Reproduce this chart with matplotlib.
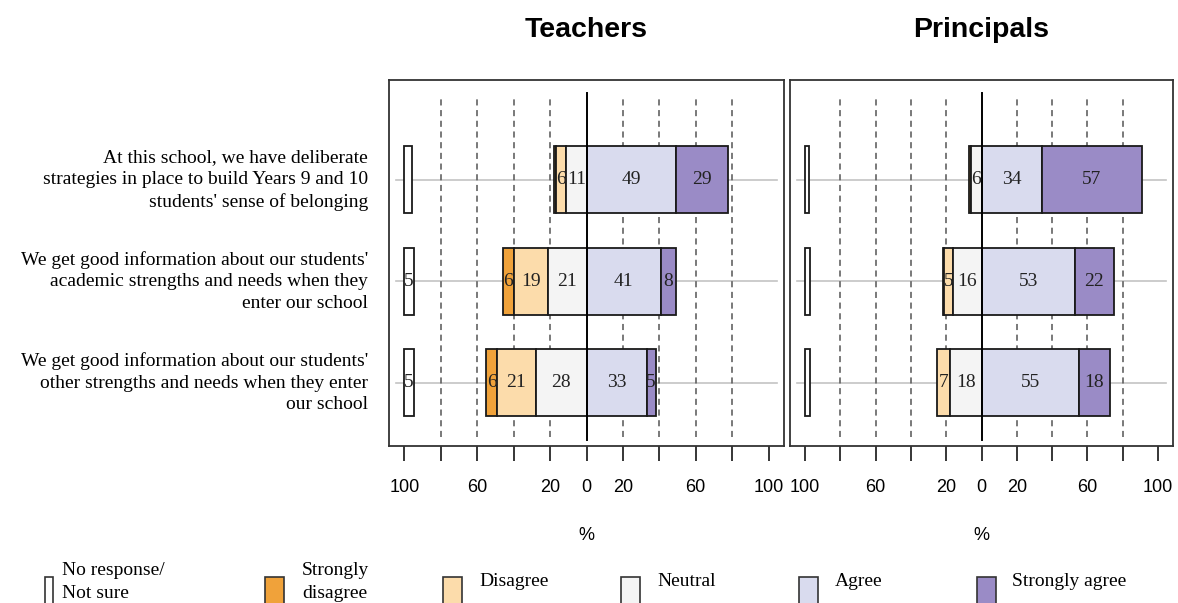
import matplotlib.pyplot as plt
from matplotlib.patches import Rectangle

# ---- data -------------------------------------------------------------
statements = ["At this school, we have deliberate\nstrategies in place to build Years 9 and 10\nstudents' sense of belonging",
              "We get good information about our students'\nacademic strengths and needs when they\nenter our school",
              "We get good information about our students'\nother strengths and needs when they enter\nour school"]
levels = ['No response/\nNot sure', 'Strongly\ndisagree', 'Disagree', 'Neutral', 'Agree', 'Strongly agree']
colors = ['#FFFFFF', '#F0A23A', '#FCDCAB', '#F4F4F4', '#D9DBEE', '#9A8BC6']

teachers_nr = [4, 5, 5]
teachers_sd = [1, 6, 6]
teachers_d = [6, 19, 21]
teachers_n = [11, 21, 28]
teachers_a = [49, 41, 33]
teachers_sa = [29, 8, 5]

principals_nr = [2, 3, 3]
principals_sd = [1, 1, 0]
principals_d = [0, 5, 7]
principals_n = [6, 16, 18]
principals_a = [34, 53, 55]
principals_sa = [57, 22, 18]

ticks = list(range(-100, 101, 20))
labelled = [-100, -60, -20, 0, 20, 60, 100]

plt.rcParams['font.family'] = 'Liberation Serif'
SANS = 'Liberation Sans'
EDGE = '#1a1a1a'

fig = plt.figure(figsize=(11.78, 6.03), dpi=100)
W, H = 1178., 603.


def panel(left_px, right_px, nr, sd, d, n, a, sa, title):
    ax = fig.add_axes([left_px / W, 1 - 446 / H, (right_px - left_px) / W, 366 / H])
    ax.set_xlim(-108.5, 108.5)
    ax.set_ylim(0.379, 3.985)
    ys = [3, 2, 1]
    for y in ys:
        ax.plot([-104.5, 104.5], [y, y], color='#c4c4c4', lw=1.2, zorder=1)
    for t in ticks:
        if t in (0, -100, 100):
            continue
        ax.plot([t, t], [0.468, 3.818], color='#555555', lw=1.1, ls=(0, (4, 3)), zorder=1.5)
    h = 0.66
    for i, y in enumerate(ys):
        segs = [(-100, nr[i], colors[0]),
                (-n[i] - d[i] - sd[i], sd[i], colors[1]),
                (-n[i] - d[i], d[i], colors[2]),
                (-n[i], n[i], colors[3]),
                (0, a[i], colors[4]),
                (a[i], sa[i], colors[5])]
        for left, w, c in segs:
            if w <= 0:
                continue
            ax.barh(y, w, left=left, height=h, color=c, edgecolor=EDGE, lw=1.3, zorder=2)
            if w >= 5:
                ax.text(left + w / 2, y, str(w), ha='center', va='center', fontsize=14,
                        color='#222222', zorder=4)
    ax.plot([0, 0], [0.438, 3.857], color='black', lw=1.4, zorder=3)
    ax.set_xticks(ticks)
    ax.set_xticklabels([str(abs(t)) if t in labelled else '' for t in ticks], family=SANS, fontsize=13)
    ax.tick_params(axis='x', direction='out', length=11, width=1.1, pad=13)
    ax.set_yticks([])
    for s in ax.spines.values():
        s.set_linewidth(1.3)
        s.set_color('#333333')
    cx = (left_px + right_px) / 2
    fig.text(cx / W, 1 - 30 / H, title, family=SANS, fontweight='bold', fontsize=20.5,
             ha='center', va='center')
    fig.text(cx / W, 1 - 536 / H, '%', family=SANS, fontsize=13, ha='center', va='center')
    return ax


ax_t = panel(389, 784, teachers_nr, teachers_sd, teachers_d, teachers_n, teachers_a, teachers_sa, 'Teachers')
ax_p = panel(790, 1173, principals_nr, principals_sd, principals_d, principals_n, principals_a, principals_sa, 'Principals')

for i, y in enumerate([3, 2, 1]):
    ax_t.text(-0.053, y, statements[i], transform=ax_t.get_yaxis_transform(), ha='right', va='center',
              multialignment='right', fontsize=14, linespacing=1.35)

# legend drawn by hand along the bottom edge
patch_x = [45, 265, 443, 621, 799, 977]
patch_w = [8, 19, 19, 19, 19, 19]
text_x = [62, 302, 479, 657, 835, 1012]
for i, lab in enumerate(levels):
    fig.patches.append(Rectangle((patch_x[i] / W, 1 - 612 / H), patch_w[i] / W, 35 / H,
                                 transform=fig.transFigure, facecolor=colors[i],
                                 edgecolor='#333333', lw=1.2))
    fig.text(text_x[i] / W, 1 - 582 / H, lab, fontsize=14, ha='left', va='center', linespacing=1.4)

fig.savefig('out.png', dpi=100)
